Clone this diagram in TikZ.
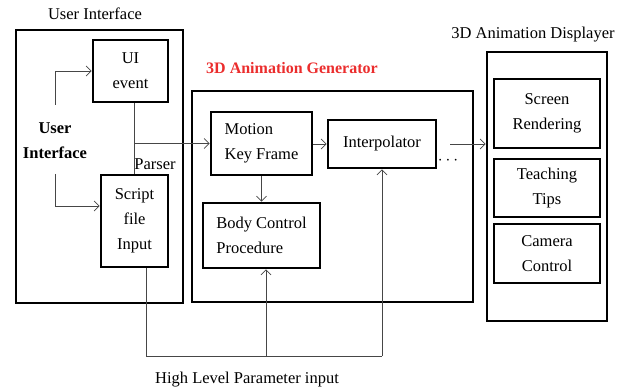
\documentclass[tikz,border=0pt]{standalone}
\usepackage{fontspec}
\setmainfont{Liberation Serif}
\usetikzlibrary{arrows.meta,calc}
\definecolor{rd}{RGB}{235,45,45}
\definecolor{ln}{RGB}{70,70,70}
\begin{document}
\begin{tikzpicture}[x=1pt,y=-1pt,
  font=\fontsize{16.5}{25}\selectfont,
  box/.style={draw=black,line width=2.6pt,inner sep=0pt,align=center},
  boxl/.style={box,align=left},
  conn/.style={draw=ln,line width=0.8pt},
  arr/.style={conn,-{Straight Barb[length=5pt,width=10pt,line width=0.8pt]}},
  lbl/.style={inner sep=0pt,align=center}]
\useasboundingbox (0,0) rectangle (627,390);
% titles
\node[lbl] (t1) at (95,14) {User Interface};
\node[lbl,text=rd,font=\fontsize{16}{25}\selectfont\bfseries] (t2) at (292,68) {3D Animation Generator};
\node[lbl] (t3) at (533,35) {3D Animation Displayer};
% outer boxes
\node[box,minimum width=167,minimum height=273] (uiouter) at (99.5,166.5) {};
\node[box,minimum width=281,minimum height=211] (gen) at (332.5,196.5) {};
\node[box,minimum width=120,minimum height=269] (disp) at (547,186.5) {};
% inner boxes
\node[box,minimum width=75,minimum height=62] (ui) at (130.5,71) {UI\\event};
\node[box,minimum width=67,minimum height=92] (script) at (134.5,221) {Script\\file\\Input};
\node[boxl,minimum width=101,minimum height=63] (motion) at (261.5,143.5) {Motion\\Key Frame};
\node[box,minimum width=108,minimum height=48] (interp) at (382,144) {Interpolator};
\node[boxl,minimum width=117,minimum height=65] (body) at (261.5,235.5) {Body Control\\Procedure};
\node[box,minimum width=106,minimum height=69] (screen) at (547,113.5) {Screen\\Rendering};
\node[box,minimum width=106,minimum height=58] (teach) at (547,188) {Teaching\\Tips};
\node[box,minimum width=106,minimum height=59] (camera) at (547,253.5) {Camera\\Control};
% labels
\node[lbl,font=\fontsize{16.5}{25}\selectfont\bfseries] (uilab) at (55,140.5) {User\\Interface};
\node[lbl] (parser) at (155,164) {Parser};
\node[lbl] (dots) at (448,161) {$\cdots$};
\node[lbl] (hl) at (247,380) {High Level Parameter input};
% connectors
\coordinate (la) at (55,105);
\coordinate (lb) at (55,174);
\draw[arr] (la) |- (ui.west);
\draw[arr] (lb) |- ([yshift=15pt]script.west);
\draw[conn] (script.north) -- (script.north |- ui.south);
\draw[arr] (motion.west -| script.north) -- (motion.west);
\draw[arr] (motion.east |- interp.west) -- (interp.west);
\draw[arr] (motion.south) -- (body.north);
\coordinate (ds) at (450,144);
\draw[arr] (ds) -- (ds -| disp.west);
\coordinate (bl) at (146,356);
\coordinate (bp) at (266,356);
\draw[conn] (bl |- script.south) -- (bl) -- (bl -| interp.south);
\draw[arr] (bl -| interp.south) -- (interp.south);
\draw[arr] (bp) -- (bp |- body.south);
\end{tikzpicture}
\end{document}
